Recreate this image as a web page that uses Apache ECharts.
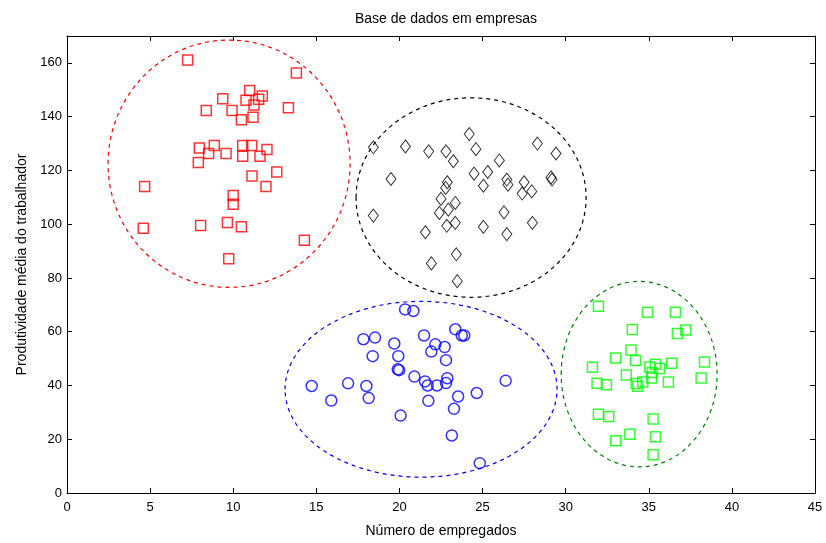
<!DOCTYPE html>
<html>
<head>
<meta charset="utf-8">
<script src="https://cdn.jsdelivr.net/npm/echarts@6/dist/echarts.min.js"></script>
<style>html,body{margin:0;padding:0;background:#fff;}#c{width:826px;height:543px;}</style>
</head>
<body>
<div id="c"></div>
<script>
// Tick labels
const xTicks = [0, 5, 10, 15, 20, 25, 30, 35, 40, 45];
const yTicks = [0, 20, 40, 60, 80, 100, 120, 140, 160];

// Red squares cluster
const redX = [7.26,13.8,10.99,11.75,9.37,10.77,11.53,11.25,8.38,9.93,13.32,10.49,11.19,7.96,8.86,8.52,9.57,10.57,11.11,10.57,11.61,12.03,7.9,12.62,11.13,11.97,4.67,10.0,10.0,4.59,8.04,9.65,10.49,14.28,9.73];
const redY = [161.1,156.2,149.7,147.7,146.7,146.1,146.5,144.3,142.3,142.3,143.3,138.8,139.8,128.3,129.3,126.3,126.3,129.3,129.3,125.3,125.3,127.8,122.9,119.4,117.9,114.0,114.0,110.7,107.4,98.5,99.5,100.6,99.0,94.0,87.1];

// Black diamonds cluster
const blackX = [18.43,20.36,21.76,22.8,23.24,24.2,24.6,26.01,28.3,29.42,19.49,22.88,22.78,24.49,25.31,25.05,26.46,26.53,27.5,27.38,27.96,29.12,29.18,18.43,22.5,23.36,22.94,22.4,22.85,23.36,21.56,26.29,25.05,26.46,28.0,23.42,21.92,23.48];
const blackY = [128.6,128.9,127.1,127.1,123.4,133.5,127.9,123.7,130.0,126.3,116.8,115.6,113.5,118.8,119.4,114.3,116.6,114.7,115.6,111.4,112.2,117.4,116.6,103.2,109.4,107.9,105.4,104.2,99.4,100.5,97.0,104.4,99.0,96.3,100.5,88.8,85.4,78.8];

// Blue circles cluster
const blueX = [20.34,20.84,17.83,18.53,19.69,21.48,23.36,23.75,23.9,22.16,22.72,21.92,18.39,19.93,22.8,19.9,19.98,20.9,21.54,21.7,22.26,22.88,22.8,14.72,16.91,18.01,18.15,15.9,23.53,24.65,26.39,21.74,23.28,20.07,23.15,24.83];
const blueY = [68.3,67.7,57.2,57.8,55.6,58.6,60.9,58.6,58.6,55.3,54.3,52.6,50.9,50.9,49.4,46.0,45.7,43.3,41.5,40.0,40.0,42.7,40.9,39.8,40.8,39.8,35.3,34.4,35.9,37.2,41.8,34.3,31.3,28.8,21.4,11.1];

// Green squares cluster
const greenX = [31.97,34.92,36.6,34.01,36.72,37.22,33.93,33.01,34.2,31.61,33.65,31.89,32.45,35.06,35.4,35.66,36.38,35.16,35.2,34.64,34.24,34.34,36.18,38.35,38.15,31.97,32.59,35.26,33.86,33.01,35.4,35.26];
const greenY = [69.5,67.2,67.2,60.8,59.3,60.6,53.2,50.2,49.3,46.8,43.9,40.8,40.3,46.9,47.9,46.3,48.3,42.8,44.8,41.3,40.7,39.7,41.3,48.7,42.8,29.3,28.5,27.5,21.9,19.4,20.9,14.2];

// Cluster outlines: center x, center y, radius x, radius y (data units)
const ellipseCX = [9.75, 24.31, 21.3, 34.42];
const ellipseCY = [122.5, 109.9, 38.6, 44.2];
const ellipseRX = [7.28, 6.92, 8.18, 4.69];
const ellipseRY = [46.0, 37.1, 32.7, 34.5];
const ellipseColors = ['#ff0000', '#000000', '#0000ff', '#008000'];

const zip = (a, b) => a.map((v, i) => [v, b[i]]);
const ellipseData = ellipseCX.map((v, i) => [v, ellipseCY[i], ellipseRX[i], ellipseRY[i], i]);

const font = 'Arial, "Liberation Sans", sans-serif';
const chart = echarts.init(document.getElementById('c'));

const tickAxisX = (pos, showLabel) => ({
  type: 'value', position: pos, min: 0, max: 45, interval: 5,
  axisLine: { show: true, onZero: false, lineStyle: { color: '#000', width: 1 } },
  axisTick: { show: true, inside: true, length: 5, lineStyle: { color: '#000' } },
  axisLabel: { show: showLabel, color: '#000', fontFamily: font, fontSize: 13, margin: 8,
    formatter: v => xTicks.indexOf(v) >= 0 ? String(v) : '' },
  splitLine: { show: false }
});
const tickAxisY = (pos, showLabel) => ({
  type: 'value', position: pos, min: 0, max: 170, interval: 20,
  axisLine: { show: true, onZero: false, lineStyle: { color: '#000', width: 1 } },
  axisTick: { show: true, inside: true, length: 5, lineStyle: { color: '#000' } },
  axisLabel: { show: showLabel, color: '#000', fontFamily: font, fontSize: 13, margin: 5,
    formatter: v => yTicks.indexOf(v) >= 0 ? String(v) : '' },
  splitLine: { show: false }
});

const xMain = tickAxisX('bottom', true);
xMain.name = 'Número de empregados';
xMain.nameLocation = 'middle';
xMain.nameGap = 31;
xMain.nameTextStyle = { color: '#000', fontFamily: font, fontSize: 14 };
const yMain = tickAxisY('left', true);
yMain.name = 'Produtividade média do trabalhador';
yMain.nameLocation = 'middle';
yMain.nameGap = 38;
yMain.nameTextStyle = { color: '#000', fontFamily: font, fontSize: 14 };

const hollow = (c) => ({ color: 'rgba(0,0,0,0)', borderColor: c, borderWidth: 1.5 });

chart.setOption({
  animation: false,
  backgroundColor: '#fff',
  title: { text: 'Base de dados em empresas', left: 441, textAlign: 'center', top: 7,
    textStyle: { color: '#000', fontFamily: font, fontSize: 14, fontWeight: 'normal' } },
  grid: { left: 67, right: 11, top: 36, bottom: 49, containLabel: false },
  xAxis: [xMain, tickAxisX('top', false)],
  yAxis: [yMain, tickAxisY('right', false)],
  series: [
    {
      type: 'custom', silent: true, xAxisIndex: 0, yAxisIndex: 0,
      data: ellipseData,
      encode: { x: 0, y: 1 },
      renderItem: function (params, api) {
        const c = api.coord([api.value(0), api.value(1)]);
        const s = api.size([api.value(2), api.value(3)]);
        return {
          type: 'ellipse',
          shape: { cx: c[0], cy: c[1], rx: s[0], ry: s[1] },
          style: { fill: 'none', stroke: ellipseColors[api.value(4)], lineWidth: 1.2, lineDash: [4, 4] }
        };
      },
      z: 1
    },
    { type: 'scatter', data: zip(redX, redY), symbol: 'rect', symbolSize: 10, itemStyle: hollow('#ff0000'), z: 2 },
    { type: 'scatter', data: zip(blackX, blackY), symbol: 'diamond', symbolSize: [10, 13], itemStyle: { color: 'rgba(0,0,0,0)', borderColor: '#000', borderWidth: 1 }, z: 2 },
    { type: 'scatter', data: zip(blueX, blueY), symbol: 'circle', symbolSize: 11, itemStyle: hollow('#0000ff'), z: 2 },
    { type: 'scatter', data: zip(greenX, greenY), symbol: 'rect', symbolSize: 10, itemStyle: hollow('#00ff00'), z: 2 }
  ]
});
</script>
</body>
</html>
